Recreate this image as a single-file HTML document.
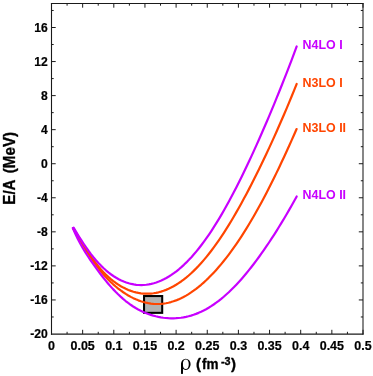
<!DOCTYPE html>
<html><head><meta charset="utf-8"><style>
html,body{margin:0;padding:0;background:#fff;}
body{width:373px;height:376px;overflow:hidden;}
svg{display:block;will-change:transform;}
text{font-family:"Liberation Sans",sans-serif;font-weight:bold;}
text.rho{font-family:"Liberation Serif",serif;font-weight:normal;}
</style></head><body>
<svg width="373" height="376" viewBox="0 0 373 376">
<rect width="373" height="376" fill="#fff"/>
<rect x="144.05" y="296.05" width="18.15" height="16.8" fill="#b2b2b2"/>
<rect x="144.05" y="296.05" width="18.15" height="16.8" fill="none" stroke="#000" stroke-width="2.05"/>
<path transform="translate(0 0.45)" d="M73.00 227.80 L75.51 231.96 L78.02 236.21 L80.54 240.47 L83.05 244.71 L85.56 248.87 L88.07 252.92 L90.59 256.81 L93.10 260.54 L95.61 264.09 L98.12 267.45 L100.64 270.61 L103.15 273.59 L105.66 276.40 L108.17 279.05 L110.69 281.53 L113.20 283.87 L115.71 286.06 L118.22 288.11 L120.73 290.02 L123.25 291.81 L125.76 293.47 L128.27 295.00 L130.78 296.41 L133.30 297.69 L135.81 298.85 L138.32 299.89 L140.83 300.79 L143.35 301.57 L145.86 302.22 L148.37 302.75 L150.88 303.14 L153.40 303.41 L155.91 303.54 L158.42 303.54 L160.93 303.42 L163.44 303.16 L165.96 302.78 L168.47 302.26 L170.98 301.62 L173.49 300.85 L176.01 299.96 L178.52 298.94 L181.03 297.79 L183.54 296.52 L186.06 295.14 L188.57 293.63 L191.08 292.00 L193.59 290.26 L196.11 288.40 L198.62 286.42 L201.13 284.34 L203.64 282.13 L206.16 279.82 L208.67 277.40 L211.18 274.86 L213.69 272.22 L216.20 269.47 L218.72 266.61 L221.23 263.64 L223.74 260.57 L226.25 257.39 L228.77 254.10 L231.28 250.71 L233.79 247.21 L236.30 243.61 L238.82 239.91 L241.33 236.10 L243.84 232.19 L246.35 228.17 L248.87 224.06 L251.38 219.84 L253.89 215.52 L256.40 211.11 L258.91 206.59 L261.43 201.98 L263.94 197.28 L266.45 192.48 L268.96 187.60 L271.48 182.62 L273.99 177.56 L276.50 172.42 L279.01 167.20 L281.53 161.89 L284.04 156.51 L286.55 151.06 L289.06 145.54 L291.58 139.95 L294.09 134.30 L296.60 128.59" fill="none" stroke="#ff4500" stroke-width="2.2" stroke-linecap="round" stroke-linejoin="round"/>
<path transform="translate(0 0.45)" d="M73.10 227.70 L75.61 231.65 L78.12 235.71 L80.64 239.82 L83.15 243.91 L85.66 247.94 L88.17 251.85 L90.69 255.61 L93.20 259.19 L95.71 262.57 L98.22 265.75 L100.74 268.72 L103.25 271.48 L105.76 274.05 L108.27 276.43 L110.79 278.63 L113.30 280.66 L115.81 282.52 L118.32 284.22 L120.83 285.77 L123.35 287.16 L125.86 288.40 L128.37 289.49 L130.88 290.45 L133.40 291.26 L135.91 291.93 L138.42 292.47 L140.93 292.87 L143.45 293.13 L145.96 293.25 L148.47 293.24 L150.98 293.09 L153.50 292.81 L156.01 292.40 L158.52 291.86 L161.03 291.18 L163.54 290.37 L166.06 289.42 L168.57 288.35 L171.08 287.14 L173.59 285.81 L176.11 284.34 L178.62 282.74 L181.13 281.02 L183.64 279.16 L186.16 277.17 L188.67 275.06 L191.18 272.81 L193.69 270.44 L196.21 267.93 L198.72 265.31 L201.23 262.55 L203.74 259.67 L206.26 256.67 L208.77 253.55 L211.28 250.30 L213.79 246.94 L216.30 243.46 L218.82 239.87 L221.33 236.16 L223.84 232.34 L226.35 228.42 L228.87 224.39 L231.38 220.25 L233.89 216.02 L236.40 211.69 L238.92 207.26 L241.43 202.75 L243.94 198.14 L246.45 193.45 L248.97 188.68 L251.48 183.82 L253.99 178.88 L256.50 173.87 L259.01 168.77 L261.53 163.60 L264.04 158.36 L266.55 153.04 L269.06 147.65 L271.58 142.19 L274.09 136.65 L276.60 131.04 L279.11 125.36 L281.63 119.61 L284.14 113.78 L286.65 107.87 L289.16 101.89 L291.68 95.84 L294.19 89.71 L296.70 83.49" fill="none" stroke="#ff4500" stroke-width="2.2" stroke-linecap="round" stroke-linejoin="round"/>
<path transform="translate(0 0.45)" d="M72.80 227.61 L75.32 233.31 L77.83 238.51 L80.35 243.28 L82.86 247.72 L85.38 251.88 L87.89 255.82 L90.41 259.60 L92.93 263.24 L95.44 266.77 L97.96 270.21 L100.47 273.56 L102.99 276.81 L105.50 279.95 L108.02 282.99 L110.54 285.90 L113.05 288.68 L115.57 291.33 L118.08 293.85 L120.60 296.22 L123.11 298.46 L125.63 300.56 L128.15 302.52 L130.66 304.34 L133.18 306.02 L135.69 307.58 L138.21 309.01 L140.72 310.32 L143.24 311.51 L145.76 312.59 L148.27 313.56 L150.79 314.42 L153.30 315.19 L155.82 315.85 L158.33 316.42 L160.85 316.89 L163.37 317.27 L165.88 317.55 L168.40 317.74 L170.91 317.84 L173.43 317.84 L175.94 317.75 L178.46 317.56 L180.98 317.28 L183.49 316.90 L186.01 316.41 L188.52 315.83 L191.04 315.14 L193.56 314.34 L196.07 313.43 L198.59 312.42 L201.10 311.30 L203.62 310.07 L206.13 308.73 L208.65 307.28 L211.17 305.72 L213.68 304.05 L216.20 302.27 L218.71 300.39 L221.23 298.39 L223.74 296.29 L226.26 294.08 L228.78 291.77 L231.29 289.35 L233.81 286.84 L236.32 284.22 L238.84 281.51 L241.35 278.70 L243.87 275.80 L246.39 272.81 L248.90 269.72 L251.42 266.56 L253.93 263.30 L256.45 259.96 L258.96 256.54 L261.48 253.03 L264.00 249.45 L266.51 245.78 L269.03 242.04 L271.54 238.22 L274.06 234.33 L276.57 230.36 L279.09 226.31 L281.61 222.20 L284.12 218.01 L286.64 213.75 L289.15 209.42 L291.67 205.01 L294.18 200.54 L296.70 196.00" fill="none" stroke="#c800ff" stroke-width="2.2" stroke-linecap="round" stroke-linejoin="round"/>
<path transform="translate(0 0.45)" d="M73.60 227.20 L76.11 231.41 L78.61 235.51 L81.12 239.49 L83.63 243.34 L86.13 247.02 L88.64 250.54 L91.15 253.88 L93.65 257.05 L96.16 260.02 L98.67 262.81 L101.17 265.41 L103.68 267.83 L106.19 270.08 L108.69 272.15 L111.20 274.05 L113.71 275.78 L116.21 277.35 L118.72 278.76 L121.23 280.02 L123.73 281.11 L126.24 282.06 L128.75 282.85 L131.26 283.50 L133.76 284.00 L136.27 284.35 L138.78 284.55 L141.28 284.62 L143.79 284.54 L146.30 284.32 L148.80 283.95 L151.31 283.45 L153.82 282.81 L156.32 282.03 L158.83 281.11 L161.34 280.05 L163.84 278.86 L166.35 277.53 L168.86 276.06 L171.36 274.45 L173.87 272.71 L176.38 270.83 L178.88 268.82 L181.39 266.67 L183.90 264.38 L186.40 261.96 L188.91 259.40 L191.42 256.71 L193.92 253.88 L196.43 250.91 L198.94 247.81 L201.44 244.58 L203.95 241.22 L206.46 237.73 L208.96 234.11 L211.47 230.36 L213.98 226.49 L216.48 222.50 L218.99 218.39 L221.50 214.16 L224.00 209.82 L226.51 205.36 L229.02 200.80 L231.52 196.13 L234.03 191.36 L236.54 186.49 L239.04 181.53 L241.55 176.48 L244.06 171.34 L246.57 166.11 L249.07 160.80 L251.58 155.41 L254.09 149.95 L256.59 144.41 L259.10 138.79 L261.61 133.10 L264.11 127.34 L266.62 121.51 L269.13 115.61 L271.63 109.64 L274.14 103.60 L276.65 97.49 L279.15 91.31 L281.66 85.06 L284.17 78.74 L286.67 72.34 L289.18 65.87 L291.69 59.33 L294.19 52.70 L296.70 45.99" fill="none" stroke="#c800ff" stroke-width="2.2" stroke-linecap="round" stroke-linejoin="round"/>
<path d="M51.50 2.95 V334.70" stroke="#1a1a1a" stroke-width="1.1" fill="none"/>
<path d="M50.95 3.50 H363.50" stroke="#1a1a1a" stroke-width="1.1" fill="none"/>
<path d="M363.00 2.95 V334.70" stroke="#1a1a1a" stroke-width="1.05" fill="none"/>
<path d="M50.95 334.05 H363.50" stroke="#1a1a1a" stroke-width="1.2" fill="none"/>
<path d="M51.50 334.00 v-4.20 M51.50 3.50 v4.20 M67.08 334.00 v-2.20 M67.08 3.50 v2.20 M82.65 334.00 v-4.20 M82.65 3.50 v4.20 M98.23 334.00 v-2.20 M98.23 3.50 v2.20 M113.80 334.00 v-4.20 M113.80 3.50 v4.20 M129.38 334.00 v-2.20 M129.38 3.50 v2.20 M144.95 334.00 v-4.20 M144.95 3.50 v4.20 M160.53 334.00 v-2.20 M160.53 3.50 v2.20 M176.10 334.00 v-4.20 M176.10 3.50 v4.20 M191.68 334.00 v-2.20 M191.68 3.50 v2.20 M207.25 334.00 v-4.20 M207.25 3.50 v4.20 M222.83 334.00 v-2.20 M222.83 3.50 v2.20 M238.40 334.00 v-4.20 M238.40 3.50 v4.20 M253.97 334.00 v-2.20 M253.97 3.50 v2.20 M269.55 334.00 v-4.20 M269.55 3.50 v4.20 M285.12 334.00 v-2.20 M285.12 3.50 v2.20 M300.70 334.00 v-4.20 M300.70 3.50 v4.20 M316.28 334.00 v-2.20 M316.28 3.50 v2.20 M331.85 334.00 v-4.20 M331.85 3.50 v4.20 M347.43 334.00 v-2.20 M347.43 3.50 v2.20 M363.00 334.00 v-4.20 M363.00 3.50 v4.20 M51.50 316.97 h2.20 M363.00 316.97 h-2.20 M51.50 299.94 h4.20 M363.00 299.94 h-4.20 M51.50 282.92 h2.20 M363.00 282.92 h-2.20 M51.50 265.89 h4.20 M363.00 265.89 h-4.20 M51.50 248.86 h2.20 M363.00 248.86 h-2.20 M51.50 231.83 h4.20 M363.00 231.83 h-4.20 M51.50 214.81 h2.20 M363.00 214.81 h-2.20 M51.50 197.78 h4.20 M363.00 197.78 h-4.20 M51.50 180.75 h2.20 M363.00 180.75 h-2.20 M51.50 163.72 h4.20 M363.00 163.72 h-4.20 M51.50 146.69 h2.20 M363.00 146.69 h-2.20 M51.50 129.67 h4.20 M363.00 129.67 h-4.20 M51.50 112.64 h2.20 M363.00 112.64 h-2.20 M51.50 95.61 h4.20 M363.00 95.61 h-4.20 M51.50 78.58 h2.20 M363.00 78.58 h-2.20 M51.50 61.56 h4.20 M363.00 61.56 h-4.20 M51.50 44.53 h2.20 M363.00 44.53 h-2.20 M51.50 27.50 h4.20 M363.00 27.50 h-4.20 M51.50 10.47 h2.20 M363.00 10.47 h-2.20" fill="none" stroke="#1a1a1a" stroke-width="1"/>
<text transform="translate(51.50 349.9) scale(1.04 1.10)" text-anchor="middle" font-size="12" stroke="#000" stroke-width="0.2">0</text>
<text transform="translate(82.65 349.9) scale(1.04 1.10)" text-anchor="middle" font-size="12" stroke="#000" stroke-width="0.2">0.05</text>
<text transform="translate(113.80 349.9) scale(1.04 1.10)" text-anchor="middle" font-size="12" stroke="#000" stroke-width="0.2">0.1</text>
<text transform="translate(144.95 349.9) scale(1.04 1.10)" text-anchor="middle" font-size="12" stroke="#000" stroke-width="0.2">0.15</text>
<text transform="translate(176.10 349.9) scale(1.04 1.10)" text-anchor="middle" font-size="12" stroke="#000" stroke-width="0.2">0.2</text>
<text transform="translate(207.25 349.9) scale(1.04 1.10)" text-anchor="middle" font-size="12" stroke="#000" stroke-width="0.2">0.25</text>
<text transform="translate(238.40 349.9) scale(1.04 1.10)" text-anchor="middle" font-size="12" stroke="#000" stroke-width="0.2">0.3</text>
<text transform="translate(269.55 349.9) scale(1.04 1.10)" text-anchor="middle" font-size="12" stroke="#000" stroke-width="0.2">0.35</text>
<text transform="translate(300.70 349.9) scale(1.04 1.10)" text-anchor="middle" font-size="12" stroke="#000" stroke-width="0.2">0.4</text>
<text transform="translate(331.85 349.9) scale(1.04 1.10)" text-anchor="middle" font-size="12" stroke="#000" stroke-width="0.2">0.45</text>
<text transform="translate(363.00 349.9) scale(1.04 1.10)" text-anchor="middle" font-size="12" stroke="#000" stroke-width="0.2">0.5</text>
<text transform="translate(47.8 338.15) scale(1.01 1.10)" text-anchor="end" font-size="12" stroke="#000" stroke-width="0.2">-20</text>
<text transform="translate(47.8 304.09) scale(1.01 1.10)" text-anchor="end" font-size="12" stroke="#000" stroke-width="0.2">-16</text>
<text transform="translate(47.8 270.04) scale(1.01 1.10)" text-anchor="end" font-size="12" stroke="#000" stroke-width="0.2">-12</text>
<text transform="translate(47.8 235.98) scale(1.01 1.10)" text-anchor="end" font-size="12" stroke="#000" stroke-width="0.2">-8</text>
<text transform="translate(47.8 201.93) scale(1.01 1.10)" text-anchor="end" font-size="12" stroke="#000" stroke-width="0.2">-4</text>
<text transform="translate(47.8 167.87) scale(1.01 1.10)" text-anchor="end" font-size="12" stroke="#000" stroke-width="0.2">0</text>
<text transform="translate(47.8 133.82) scale(1.01 1.10)" text-anchor="end" font-size="12" stroke="#000" stroke-width="0.2">4</text>
<text transform="translate(47.8 99.76) scale(1.01 1.10)" text-anchor="end" font-size="12" stroke="#000" stroke-width="0.2">8</text>
<text transform="translate(47.8 65.71) scale(1.01 1.10)" text-anchor="end" font-size="12" stroke="#000" stroke-width="0.2">12</text>
<text transform="translate(47.8 31.65) scale(1.01 1.10)" text-anchor="end" font-size="12" stroke="#000" stroke-width="0.2">16</text>
<text x="302.5" y="49.4" font-size="12.45" fill="#c800ff">N4LO I</text>
<text x="302.5" y="87.2" font-size="12.45" fill="#ff4500">N3LO I</text>
<text x="302.5" y="131.6" font-size="12.45" fill="#ff4500">N3LO II</text>
<text x="302.5" y="198.7" font-size="12.45" fill="#c800ff">N4LO II</text>
<text transform="translate(14.9 204.7) rotate(-90) scale(1.01 1.08)" font-size="15" word-spacing="2.6" stroke="#000" stroke-width="0.3" stroke-linejoin="round">E/A (MeV)</text>
<path d="M181.00 364.35 a4.80 5.65 0 1 0 9.60 0 a4.80 5.65 0 1 0 -9.60 0 Z M182.85 364.35 a2.95 4.75 0 1 1 5.90 0 a2.95 4.75 0 1 1 -5.90 0 Z " fill="#000" fill-rule="evenodd"/>
<rect x="181.02" y="363.35" width="1.95" height="10.55" fill="#000"/>
<g stroke="#000" stroke-width="0.35" stroke-linejoin="round">
<text x="195.9" y="369.3" font-size="15">(</text>
<text transform="translate(201.9 369.3) scale(0.9 1)" font-size="15">fm</text>
<text x="220.9" y="364.7" font-size="10.8">-3</text>
<text x="230.9" y="369.3" font-size="15">)</text>
</g>
</svg>
</body></html>
